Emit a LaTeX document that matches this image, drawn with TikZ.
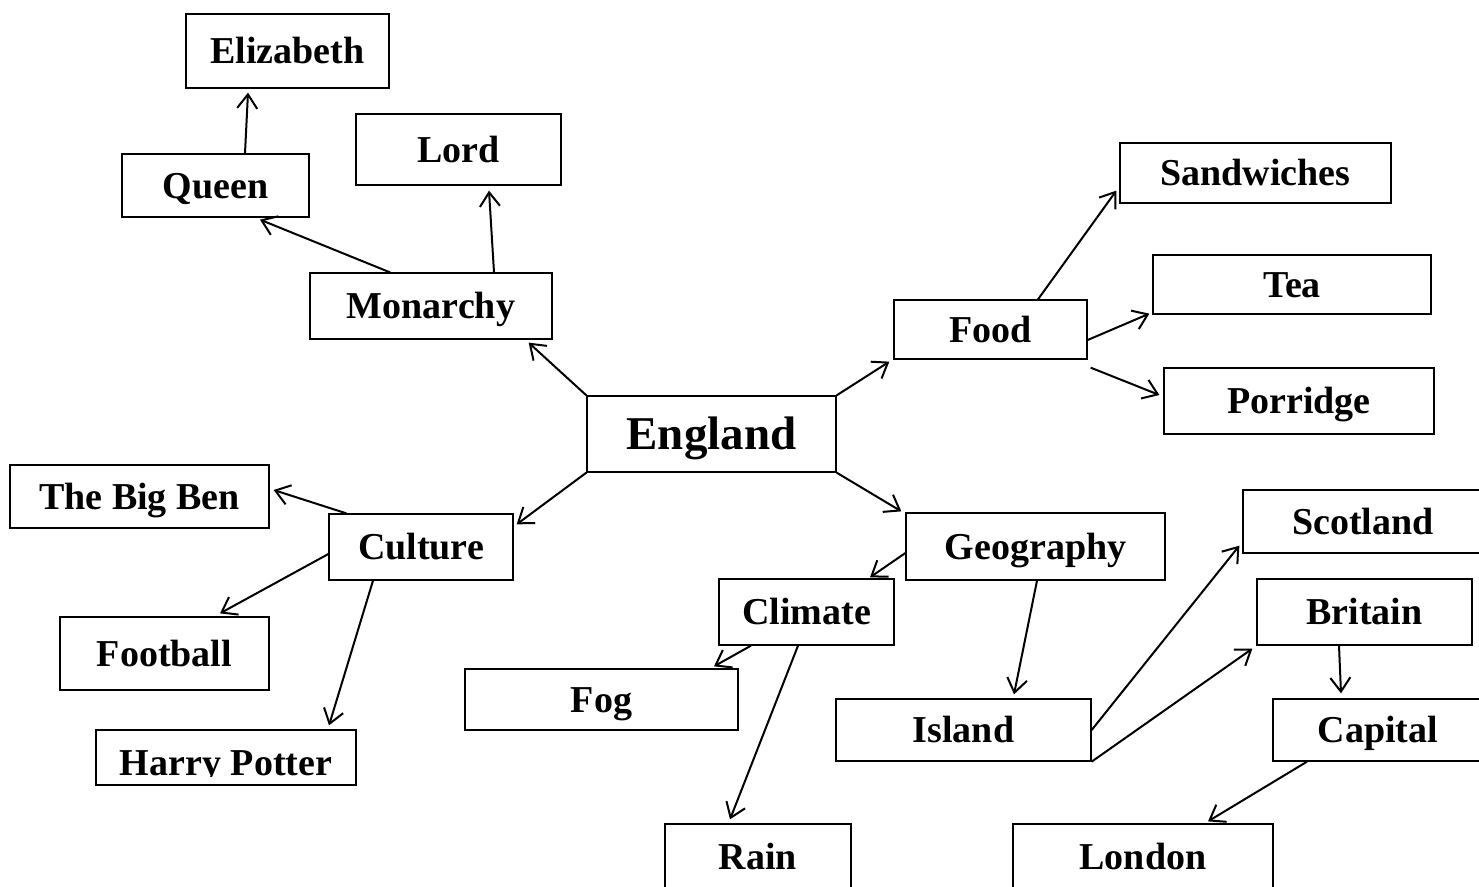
\documentclass[tikz,border=0pt]{standalone}
\usepackage{fontspec}
\setmainfont{Liberation Serif}
\usetikzlibrary{arrows.meta}
\begin{document}
\begin{tikzpicture}[x=1pt,y=-1pt,
  box/.style={draw=black, line width=1.3pt, inner sep=0pt, text height=25pt, text depth=0pt,
    font=\bfseries\fontsize{38pt}{44pt}\selectfont},
  bigbox/.style={box, text height=31pt, font=\bfseries\fontsize{47pt}{54pt}\selectfont},
  con/.style={line width=2pt, -{Straight Barb[length=14pt,width=20pt]}},
  lab/.style={inner sep=0pt, text height=25pt, text depth=0pt, font=\bfseries\fontsize{38pt}{44pt}\selectfont}]
\useasboundingbox (0,0) rectangle (1479,886);
\fill[white] (0,0) rectangle (1479,886);
\clip (0,0) rectangle (1479,886);

% nodes
\node[box, minimum width=203pt, minimum height=74pt] (eliz) at (287.5,51) {Elizabeth};
\node[box, minimum width=187pt, minimum height=63pt] (queen) at (215.5,185.5) {Queen};
\node[box, minimum width=205pt, minimum height=71pt] (lord) at (458.5,149.5) {Lord};
\node[box, minimum width=242pt, minimum height=66pt] (mon) at (431,306) {Monarchy};
\node[bigbox, minimum width=249pt, minimum height=76pt] (eng) at (711.5,434) {England};
\node[box, minimum width=193pt, minimum height=59pt] (food) at (990.5,329.5) {Food};
\node[box, minimum width=271pt, minimum height=60pt] (sand) at (1255.5,173) {Sandwiches};
\node[box, minimum width=278pt, minimum height=59pt] (tea) at (1292,284.5) {Tea};
\node[box, minimum width=270pt, minimum height=66pt] (porr) at (1299,401) {Porridge};
\node[box, minimum width=259pt, minimum height=63pt] (bigben) at (139.5,496.5) {The Big Ben};
\node[box, minimum width=184pt, minimum height=66pt] (cult) at (421,547) {Culture};
\node[box, minimum width=209pt, minimum height=73pt] (foot) at (164.5,653.5) {Football};
\node[box, minimum width=260pt, minimum height=55pt] (harry) at (226,757.5) {};
\begin{scope}
  \clip (0,0) rectangle (1479,776);
  \node[lab, anchor=base] (harrytext) at (226,775) {Harry Potter};
\end{scope}
\node[box, minimum width=273pt, minimum height=61pt] (fog) at (601.5,699.5) {Fog};
\node[box, minimum width=175pt, minimum height=66pt] (clim) at (806.5,612) {Climate};
\node[box, minimum width=259pt, minimum height=67pt] (geo) at (1035.5,546.5) {Geography};
\node[box, minimum width=186pt, minimum height=66pt] (rain) at (758,857) {Rain};
\node[box, minimum width=255pt, minimum height=62pt] (island) at (963.5,730) {Island};
\node[box, minimum width=240pt, minimum height=63pt] (scot) at (1363,521.5) {Scotland};
\node[box, minimum width=215pt, minimum height=66pt] (brit) at (1364.5,612) {Britain};
\node[box, minimum width=210pt, minimum height=62pt] (cap) at (1378,730) {Capital};
\node[box, minimum width=260pt, minimum height=66pt] (lond) at (1143,857) {London};

% connectors
\draw[con] ([xshift=29.5pt]queen.north) -- ([xshift=-39.5pt,yshift=-4pt]eliz.south);
\draw[con] ([xshift=-41pt]mon.north) -- ([xshift=44.5pt,yshift=-2pt]queen.south);
\draw[con] ([xshift=63pt]mon.north) -- ([xshift=30.5pt,yshift=-5pt]lord.south);
\draw[con] (eng.north west) -- ([xshift=-24pt,yshift=-3pt]mon.south east);
\draw[con] (eng.north east) -- ([xshift=-4pt,yshift=-2pt]food.south west);
\draw[con] ([xshift=47.5pt]food.north) -- ([xshift=-3pt,yshift=13pt]sand.south west);
\draw[con] ([yshift=-10.5pt]food.east) -- ([xshift=-3pt,yshift=1pt]tea.south west);
\draw[con] ([xshift=3pt,yshift=-8pt]food.south east) -- ([xshift=-4pt,yshift=6pt]porr.west);
\draw[con] (eng.south west) -- ([xshift=3pt,yshift=-11pt]cult.north east);
\draw[con] ([xshift=18pt]cult.north west) -- ([xshift=4pt,yshift=6.5pt]bigben.east);
\draw[con] ([yshift=-7pt]cult.west) -- ([xshift=55.5pt,yshift=3pt]foot.north);
\draw[con] ([xshift=-48pt]cult.south) -- ([xshift=103pt,yshift=4pt]harry.north);
\draw[con] (eng.south east) -- ([xshift=-4pt,yshift=1pt]geo.north west);
\draw[con] ([yshift=-6.5pt]geo.west) -- ([xshift=63.5pt,yshift=1pt]clim.north);
\draw[con] ([xshift=1.5pt]geo.south) -- ([xshift=50.5pt,yshift=4pt]island.north);
\draw[con] ([xshift=-55.5pt]clim.south) -- ([xshift=112.5pt,yshift=2pt]fog.north);
\draw[con] ([xshift=-8.5pt]clim.south) -- ([xshift=-28pt,yshift=4pt]rain.north);
\draw[con] (island.east) -- ([xshift=-3pt,yshift=8pt]scot.south west);
\draw[con] (island.south east) -- ([xshift=-4pt,yshift=-3pt]brit.south west);
\draw[con] ([xshift=-25.5pt]brit.south) -- ([xshift=-37pt,yshift=5pt]cap.north);
\draw[con] ([xshift=-71pt]cap.south) -- ([xshift=65pt,yshift=2pt]lond.north);
\end{tikzpicture}
\end{document}
